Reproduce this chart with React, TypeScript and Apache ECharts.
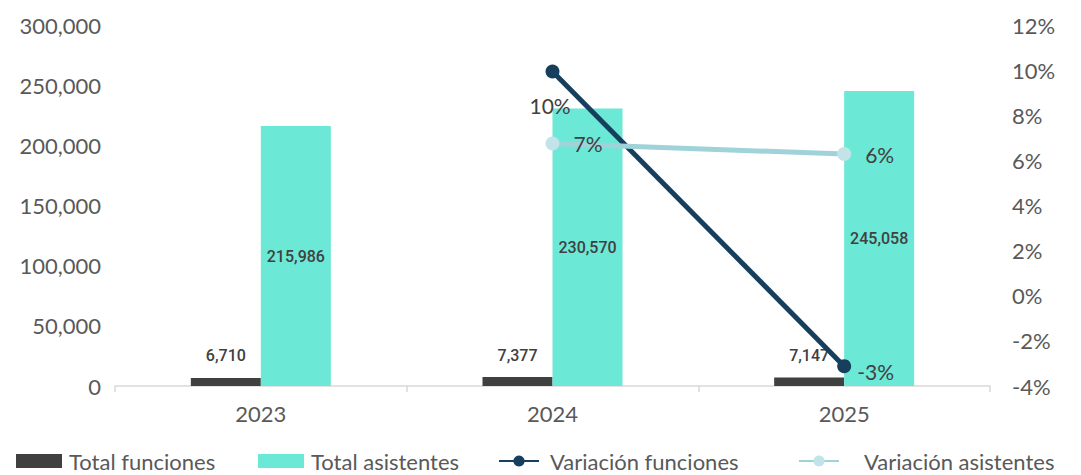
import React, { useEffect, useRef } from "react";
import * as echarts from "echarts";

const years = ["2023", "2024", "2025"];
const totalFunciones = [6710, 7377, 7147];
const totalAsistentes = [215986, 230570, 245058];
const variacionFunciones: (number | null)[] = [null, 9.94, -3.12];
const variacionAsistentes: (number | null)[] = [null, 6.75, 6.28];
const leftTicks = [0, 50000, 100000, 150000, 200000, 250000, 300000];
const rightTicks = [-4, -2, 0, 2, 4, 6, 8, 10, 12];
const legendNames = ["Total funciones", "Total asistentes", "Variación funciones", "Variación asistentes"];

const fmt = (v: number) => v.toLocaleString("en-US");

export default function App() {
  const ref = useRef<HTMLDivElement>(null);
  useEffect(() => {
    if (!ref.current) return;
    const chart = echarts.init(ref.current, null, { renderer: "svg" });
    const axisFont = { fontFamily: "Lato, 'Noto Sans', sans-serif", fontSize: 22, color: "#595959" };
    const legendLefts = [16, 258, 498, 798];
    const legendText = { fontSize: 22, color: "#595959", fontFamily: "Lato, sans-serif", lineHeight: 22 };
    chart.setOption({
      animation: false,
      textStyle: { fontFamily: "Lato, 'Noto Sans', sans-serif" },
      grid: { left: 115, right: 91, top: 25, bottom: 89, containLabel: false },
      legend: legendNames.map((n, i) => ({
        left: legendLefts[i],
        top: 450,
        padding: 0,
        itemWidth: i < 2 ? 46 : 40,
        itemHeight: 14,
        itemGap: 0,
        textStyle: { ...legendText, padding: [0, 0, 0, i === 3 ? 20 : i === 2 ? 6 : 2] },
        data: [{ name: n, icon: i < 2 ? "rect" : undefined }],
      })),
      xAxis: {
        type: "category",
        data: years,
        axisLine: { lineStyle: { color: "#d9d9d9", width: 1.5 } },
        axisTick: { show: true, length: 6, lineStyle: { color: "#d9d9d9", width: 1.5 } },
        axisLabel: { ...axisFont, margin: 16 },
      },
      yAxis: [
        {
          type: "value",
          min: leftTicks[0],
          max: leftTicks[leftTicks.length - 1],
          interval: 50000,
          splitLine: { show: false },
          axisLine: { show: false },
          axisTick: { show: false },
          axisLabel: { ...axisFont, margin: 14, formatter: (v: number) => fmt(v) },
        },
        {
          type: "value",
          min: rightTicks[0],
          max: rightTicks[rightTicks.length - 1],
          interval: 2,
          splitLine: { show: false },
          axisLine: { show: false },
          axisTick: { show: false },
          axisLabel: { ...axisFont, margin: 22, formatter: (v: number) => v + "%" },
        },
      ],
      series: [
        {
          name: "Total funciones",
          type: "bar",
          data: totalFunciones,
          barWidth: 70,
          barGap: "0%",
          itemStyle: { color: "#404040" },
          label: {
            show: true,
            position: "top",
            distance: 14,
            formatter: (p: any) => fmt(p.value),
            fontSize: 16,
            fontWeight: 500,
            fontFamily: "Roboto, sans-serif",
            color: "#404040",
          },
        },
        {
          name: "Total asistentes",
          type: "bar",
          data: totalAsistentes,
          barWidth: 70,
          barGap: "0%",
          itemStyle: { color: "#6ce8d6" },
          label: {
            show: true,
            position: "inside",
            formatter: (p: any) => fmt(p.value),
            fontSize: 16,
            fontWeight: 500,
            fontFamily: "Roboto, sans-serif",
            color: "#404040",
          },
        },
        {
          name: "Variación funciones",
          type: "line",
          yAxisIndex: 1,
          data: variacionFunciones,
          symbol: "circle",
          symbolSize: 14,
          lineStyle: { color: "#163f5e", width: 5 },
          itemStyle: { color: "#163f5e" },
          label: {
            show: true,
            fontSize: 21,
            color: "#404040",
            fontFamily: "Lato, sans-serif",
            formatter: (p: any) => Math.round(p.value) + "%",
          },
          labelLayout: (params: any) => {
            if (params.dataIndex === 1) {
              return { x: params.rect.x - 16, y: params.rect.y + 31 };
            }
            return { x: params.rect.x + 20, y: params.rect.y + 2 };
          },
        },
        {
          name: "Variación asistentes",
          type: "line",
          yAxisIndex: 1,
          data: variacionAsistentes,
          symbol: "circle",
          symbolSize: 14,
          lineStyle: { color: "#9fd3d9", width: 5 },
          itemStyle: { color: "#c2e4e8" },
          label: {
            show: true,
            position: "right",
            distance: 14,
            fontSize: 21,
            color: "#404040",
            fontFamily: "Lato, sans-serif",
            formatter: (p: any) => Math.round(p.value) + "%",
          },
        },
      ],
    });
    return () => chart.dispose();
  }, []);
  return <div ref={ref} style={{ width: 1081, height: 475, position: "absolute", left: 0, top: 0 }} />;
}
